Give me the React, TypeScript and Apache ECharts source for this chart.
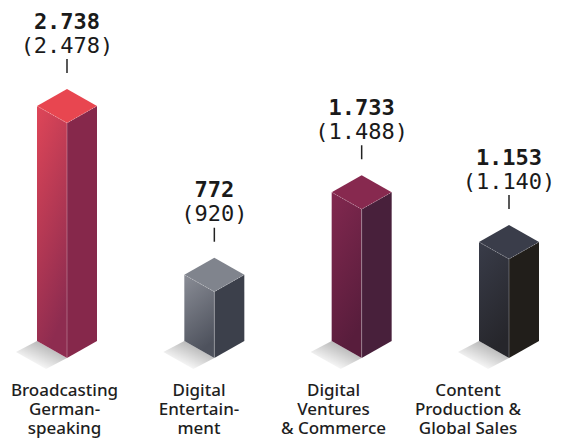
import React, { useEffect, useRef } from "react";
import * as echarts from "echarts";

const categories = [
  "Broadcasting\nGerman-\nspeaking",
  "Digital\nEntertain-\nment",
  "Digital\nVentures\n& Commerce",
  "Content\nProduction &\nGlobal Sales",
];
const currentValues = [2738, 772, 1733, 1153];
const previousValues = [2478, 920, 1488, 1140];

const palette = [
  { top: "#e84650", leftTop: "#df4658", leftBottom: "#8e2c50", right: "#86284b" },
  { top: "#80848d", leftTop: "#8a8d96", leftBottom: "#4e525d", right: "#3c404b" },
  { top: "#87294f", leftTop: "#82284f", leftBottom: "#581d3c", right: "#48203b" },
  { top: "#3a3d4a", leftTop: "#393c49", leftBottom: "#26262b", right: "#211e1a" },
];

const fmt = (n: number) => String(n).replace(/\B(?=(\d{3})+(?!\d))/g, ".");

export default function App() {
  const ref = useRef<HTMLDivElement>(null);
  useEffect(() => {
    if (!ref.current) return;
    const chart = echarts.init(ref.current, null, { renderer: "svg" });
    const W = 30;
    const D = 17;
    const renderItem = (params: any, api: any) => {
      const idx = api.value(0);
      const val = api.value(1);
      const prev = api.value(2);
      const top = api.coord([idx, val]);
      const base = api.coord([idx, 0]);
      const cx = top[0];
      const ty = top[1];
      const by = base[1];
      const apex = ty - 2 * D;
      const c = palette[idx];
      return {
        type: "group",
        children: [
          {
            type: "polygon",
            shape: {
              points: [
                [cx - W, by - D],
                [cx, by],
                [cx - 21, by + 11],
                [cx - W - 21, by - D + 11],
              ],
            },
            style: {
              fill: new echarts.graphic.LinearGradient(0.75, 0.25, 0.25, 0.85, [
                { offset: 0, color: "rgba(0,0,0,0.28)" },
                { offset: 1, color: "rgba(0,0,0,0)" },
              ]),
            },
          },
          {
            type: "polygon",
            shape: {
              points: [
                [cx - W, ty - D],
                [cx, ty],
                [cx, by],
                [cx - W, by - D],
              ],
            },
            style: {
              fill: new echarts.graphic.LinearGradient(0, 0, 0.3, 1, [
                { offset: 0, color: c.leftTop },
                { offset: 1, color: c.leftBottom },
              ]),
            },
          },
          {
            type: "polygon",
            shape: {
              points: [
                [cx, ty],
                [cx + W, ty - D],
                [cx + W, by - D],
                [cx, by],
              ],
            },
            style: { fill: c.right },
          },
          {
            type: "polygon",
            shape: {
              points: [
                [cx, ty],
                [cx - W, ty - D],
                [cx, ty - 2 * D],
                [cx + W, ty - D],
              ],
            },
            style: { fill: c.top },
          },
          {
            type: "polyline",
            shape: { points: [[cx - W, ty - D], [cx, ty], [cx + W, ty - D]] },
            style: { stroke: "rgba(255,255,255,0.35)", lineWidth: 0.8, lineDash: [1.5, 1.5], fill: "none" },
          },
          {
            type: "line",
            shape: { x1: cx, y1: ty, x2: cx, y2: by },
            style: { stroke: "rgba(255,255,255,0.28)", lineWidth: 1 },
          },
          {
            type: "line",
            shape: { x1: cx, y1: apex - 30, x2: cx, y2: apex - 16 },
            style: { stroke: "#222222", lineWidth: 1.5 },
          },
          {
            type: "text",
            style: {
              text: fmt(val),
              x: cx,
              y: apex - 68,
              align: "center",
              verticalAlign: "middle",
              fontFamily: "DejaVu Sans Mono",
              fontWeight: "bold",
              fontSize: 22,
              fill: "#1a1a1a",
            },
          },
          {
            type: "text",
            style: {
              text: "(" + fmt(prev) + ")",
              x: cx,
              y: apex - 44,
              align: "center",
              verticalAlign: "middle",
              fontFamily: "DejaVu Sans Mono",
              fontWeight: "normal",
              fontSize: 22,
              fill: "#1a1a1a",
            },
          },
        ],
      };
    };

    chart.setOption({
      animation: false,
      grid: [
        { left: -6.67, right: -9.67, top: 123, bottom: 87, outerBoundsMode: "none", containLabel: false },
        { left: -2.75, right: 37.75, top: 300, bottom: 73, outerBoundsMode: "none", containLabel: false },
      ],
      xAxis: [
        { type: "category", gridIndex: 0, data: categories, show: false },
        {
          type: "category",
          gridIndex: 1,
          data: categories,
          axisLine: { show: false },
          axisTick: { show: false },
          axisLabel: {
            margin: 8,
            lineHeight: 19,
            fontSize: 17,
            fontFamily: "Noto Sans",
            fontWeight: 500,
            color: "#1e1e1e",
            interval: 0,
          },
        },
      ],
      yAxis: [
        { type: "value", gridIndex: 0, min: 0, max: Math.max(...currentValues), show: false },
        { type: "value", gridIndex: 1, show: false },
      ],
      series: [
        {
          type: "custom",
          xAxisIndex: 0,
          yAxisIndex: 0,
          renderItem,
          encode: { x: 0, y: 1 },
          data: currentValues.map((v, i) => [i, v, previousValues[i]]),
        },
      ],
    });
    return () => chart.dispose();
  }, []);
  return (
    <div
      ref={ref}
      style={{ position: "fixed", left: 0, top: 0, width: 573, height: 445, background: "#ffffff" }}
    />
  );
}
